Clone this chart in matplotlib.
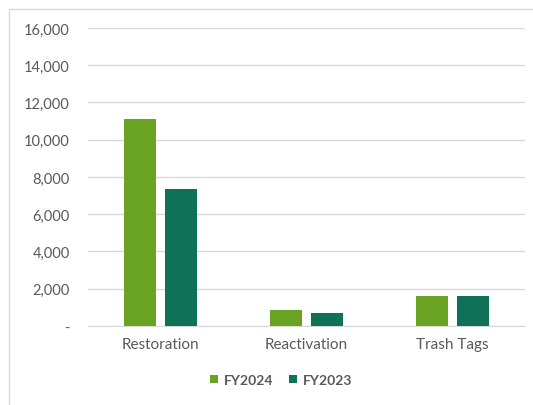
import matplotlib.pyplot as plt
import numpy as np
from matplotlib.patches import Rectangle
from matplotlib.ticker import FuncFormatter

categories = ["Restoration", "Reactivation", "Trash Tags"]
fy2024 = [11100, 850, 1600]
fy2023 = [7350, 700, 1600]

plt.rcParams['font.family'] = ['Lato', 'DejaVu Sans']

def thousands(v, pos):
    # accounting style: zero shows as a dash
    if v == 0:
        return "-"
    return "{:,.0f}".format(v)

fig = plt.figure(figsize=(5.33, 4.06), dpi=100)
ax = fig.add_axes([0.165, 0.1946, 0.82, 0.734])

x = np.arange(len(categories))
w = 0.22
ax.bar(x - 0.14, fy2024, w, color="#6aa322", label="FY2024", zorder=3)
ax.bar(x + 0.14, fy2023, w, color="#0f7257", label="FY2023", zorder=3)

ax.set_xlim(-0.5, 2.5)
ax.set_ylim(0, 16000)
ax.set_yticks(range(0, 16001, 2000))
ax.yaxis.set_major_formatter(FuncFormatter(thousands))
ax.set_xticks(x)
ax.set_xticklabels(categories)
ax.tick_params(axis="y", length=0, pad=13, labelsize=10.5, labelcolor="#595959")
ax.tick_params(axis="x", length=0, pad=8, labelsize=11, labelcolor="#595959")
ax.grid(axis="y", color="#d9d9d9", linewidth=1, zorder=0)
for s in ["top", "right", "left"]:
    ax.spines[s].set_visible(False)
ax.spines["bottom"].set_color("#d9d9d9")

# light frame around the chart area
fig.patches.append(Rectangle((0.016, -0.1), 1.2, 1.075, transform=fig.transFigure,
                             fill=False, edgecolor="#d9d9d9", linewidth=1.0))

leg = fig.legend(loc="center", bbox_to_anchor=(0.527, 0.062), ncol=2, frameon=False,
                 fontsize=10, handlelength=0.6, handleheight=0.6, handletextpad=0.4,
                 columnspacing=1.1)
for t in leg.get_texts():
    t.set_color("#595959")
    t.set_fontweight("bold")

fig.savefig("out.png", dpi=100)
